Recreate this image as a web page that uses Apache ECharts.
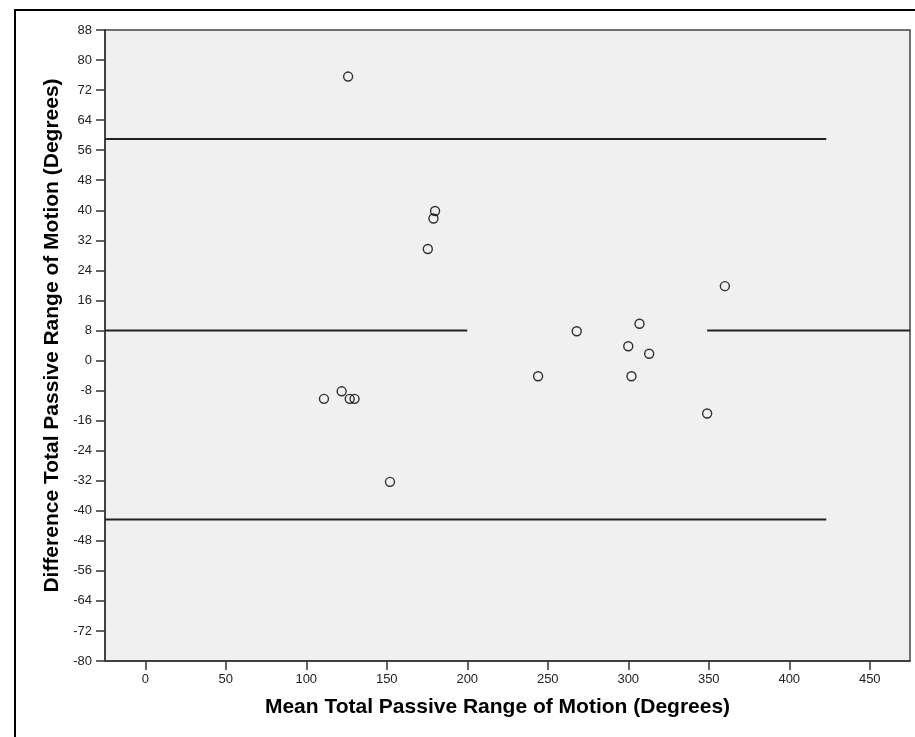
<!DOCTYPE html>
<html>
<head>
<meta charset="utf-8">
<script src="https://cdn.jsdelivr.net/npm/echarts@6/dist/echarts.min.js"></script>
<style>
  html, body { margin: 0; padding: 0; background: #fff; }
  #main { width: 915px; height: 737px; }
</style>
</head>
<body>
<div id="main"></div>
<script>
// mean of the two measurements (x) and their difference (y)
const meanVals = [126, 180, 179, 175.5, 111, 122, 127, 130, 152, 360, 268, 307, 300, 313, 244, 302, 349];
const diffVals = [75.6, 39.8, 37.8, 29.7, -10.2, -8.2, -10.2, -10.2, -32.3, 19.8, 7.8, 9.8, 3.8, 1.8, -4.2, -4.2, -14.1];

// limits of agreement
const upperLimit = 59;
const meanDiff = 8;
const lowerLimit = -42.3;
const limitLineX = [-25, 423];
const meanLeftX = [-25, 200];
const meanRightX = [349, 475];

const xTicks = [0, 50, 100, 150, 200, 250, 300, 350, 400, 450];

const points = meanVals.map((v, i) => [v, diffVals[i]]);

function hline(xs, y) {
  return {
    type: "line",
    data: [[xs[0], y], [xs[1], y]],
    symbol: "none",
    silent: true,
    lineStyle: { color: "#222", width: 2 },
    z: 2
  };
}

let myChart = echarts.init(document.getElementById("main"));
myChart.setOption({
  animation: false,
  backgroundColor: "#fff",
  textStyle: { fontFamily: "Liberation Sans, Arial, sans-serif" },
  graphic: [
    {
      type: "rect",
      shape: { x: 15, y: 10, width: 930, height: 760 },
      style: { fill: "none", stroke: "#000", lineWidth: 2 },
      z: -1
    }
  ],
  grid: {
    left: 105, right: 5, top: 30, bottom: 76,
    show: true,
    backgroundColor: "#f0f0f0",
    borderColor: "#444",
    borderWidth: 1.5
  },
  xAxis: {
    type: "value",
    min: -25,
    max: 475,
    name: "Mean Total Passive Range of Motion (Degrees)",
    nameLocation: "middle",
    nameGap: 36,
    nameTextStyle: { fontSize: 21, fontWeight: "bold", color: "#000", padding: [0, 20, 0, 0] },
    axisLine: { onZero: false, lineStyle: { color: "#333", width: 1.5 } },
    axisTick: { customValues: xTicks, length: 9, lineStyle: { color: "#333", width: 1.5 } },
    axisLabel: { customValues: xTicks, fontSize: 13, color: "#222", margin: 12 },
    splitLine: { show: false }
  },
  yAxis: {
    type: "value",
    min: -80,
    max: 88,
    interval: 8,
    name: "Difference Total Passive Range of Motion (Degrees)",
    nameLocation: "middle",
    nameGap: 41,
    nameTextStyle: { fontSize: 21, fontWeight: "bold", color: "#000", padding: [0, 0, 0, 20] },
    axisLine: { show: true, onZero: false, lineStyle: { color: "#333", width: 1.5 } },
    axisTick: { show: true, length: 9, lineStyle: { color: "#333", width: 1.5 } },
    axisLabel: { fontSize: 13, color: "#222", margin: 13 },
    splitLine: { show: false }
  },
  series: [
    hline(limitLineX, upperLimit),
    hline(meanLeftX, meanDiff),
    hline(meanRightX, meanDiff),
    hline(limitLineX, lowerLimit),
    {
      type: "scatter",
      data: points,
      symbol: "circle",
      symbolSize: 9,
      itemStyle: { color: "rgba(0,0,0,0)", borderColor: "#000", borderWidth: 1.4 },
      z: 3
    }
  ]
});
</script>
</body>
</html>
